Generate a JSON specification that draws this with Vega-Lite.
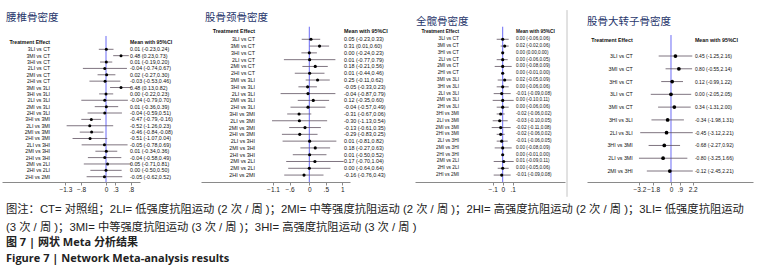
{
  "$schema": "https://vega.github.io/schema/vega-lite/v6.json",
  "width": 776,
  "height": 182,
  "padding": 0,
  "autosize": {"type": "pad"},
  "config": {
    "view": {"stroke": null},
    "font": "Liberation Sans",
    "axisX": {
      "grid": false,
      "title": null,
      "orient": "bottom",
      "domainColor": "#8a8a8a",
      "tickColor": "#8a8a8a",
      "tickSize": 3,
      "labelFontSize": 6.5,
      "labelColor": "#222222",
      "labelPadding": 1,
      "labelFlush": false,
      "labelOverlap": false,
      "labelExpr": "replace(format(datum.value, '~g'), '0.', '.')"
    }
  },
  "title": {
    "text": [
      "图注：CT= 对照组；2LI= 低强度抗阻运动 (2 次 / 周 )；2MI= 中等强度抗阻运动 (2 次 / 周 )；2HI= 高强度抗阻运动 (2 次 / 周 )；3LI= 低强度抗阻运动",
      "(3 次 / 周 )；3MI= 中等强度抗阻运动 (3 次 / 周 )；3HI= 高强度抗阻运动 (3 次 / 周 )"
    ],
    "subtitle": ["图 7 | 网状 Meta 分析结果", "Figure 7 | Network Meta-analysis results"],
    "orient": "bottom",
    "anchor": "start",
    "frame": "group",
    "dx": 6,
    "offset": 7,
    "font": "Liberation Sans, Noto Sans CJK SC",
    "fontSize": 11.3,
    "fontWeight": "normal",
    "color": "#222222",
    "lineHeight": 17.5,
    "subtitleFont": "Open Sans, Noto Sans CJK SC",
    "subtitleFontSize": 11,
    "subtitleFontWeight": "bold",
    "subtitleColor": "#222222",
    "subtitleLineHeight": 16.7,
    "subtitlePadding": 3.5
  },
  "datasets": {
    "lumbar": [
      {"row": 1, "label": "3LI vs CT", "mean": 0.01, "lo": -0.23, "hi": 0.24, "ci": "0.01 (-0.23,0.24)"},
      {"row": 2, "label": "3MI vs CT", "mean": 0.48, "lo": 0.23, "hi": 0.73, "ci": "0.48 (0.23,0.73)"},
      {"row": 3, "label": "3HI vs CT", "mean": 0.01, "lo": -0.19, "hi": 0.20, "ci": "0.01 (-0.19,0.20)"},
      {"row": 4, "label": "2LI vs CT", "mean": -0.04, "lo": -0.74, "hi": 0.67, "ci": "-0.04 (-0.74,0.67)"},
      {"row": 5, "label": "2MI vs CT", "mean": 0.02, "lo": -0.27, "hi": 0.30, "ci": "0.02 (-0.27,0.30)"},
      {"row": 6, "label": "2HI vs CT", "mean": -0.03, "lo": -0.53, "hi": 0.46, "ci": "-0.03 (-0.53,0.46)"},
      {"row": 7, "label": "3MI vs 3LI", "mean": 0.48, "lo": 0.13, "hi": 0.82, "ci": "0.48 (0.13,0.82)"},
      {"row": 8, "label": "3HI vs 3LI", "mean": 0.00, "lo": -0.22, "hi": 0.23, "ci": "0.00 (-0.22,0.23)"},
      {"row": 9, "label": "2LI vs 3LI", "mean": -0.04, "lo": -0.79, "hi": 0.70, "ci": "-0.04 (-0.79,0.70)"},
      {"row": 10, "label": "2MI vs 3LI", "mean": 0.01, "lo": -0.36, "hi": 0.39, "ci": "0.01 (-0.36,0.39)"},
      {"row": 11, "label": "2HI vs 3LI", "mean": -0.04, "lo": -0.59, "hi": 0.51, "ci": "-0.04 (-0.59,0.51)"},
      {"row": 12, "label": "3HI vs 3MI", "mean": -0.47, "lo": -0.79, "hi": -0.16, "ci": "-0.47 (-0.79,-0.16)"},
      {"row": 13, "label": "2LI vs 3MI", "mean": -0.52, "lo": -1.26, "hi": 0.23, "ci": "-0.52 (-1.26,0.23)"},
      {"row": 14, "label": "2MI vs 3MI", "mean": -0.46, "lo": -0.84, "hi": -0.08, "ci": "-0.46 (-0.84,-0.08)"},
      {"row": 15, "label": "2HI vs 3MI", "mean": -0.51, "lo": -1.07, "hi": 0.04, "ci": "-0.51 (-1.07,0.04)"},
      {"row": 16, "label": "2LI vs 3HI", "mean": -0.05, "lo": -0.78, "hi": 0.69, "ci": "-0.05 (-0.78,0.69)"},
      {"row": 17, "label": "2MI vs 3HI", "mean": 0.01, "lo": -0.34, "hi": 0.36, "ci": "0.01 (-0.34,0.36)"},
      {"row": 18, "label": "2HI vs 3HI", "mean": -0.04, "lo": -0.58, "hi": 0.49, "ci": "-0.04 (-0.58,0.49)"},
      {"row": 19, "label": "2MI vs 2LI", "mean": 0.05, "lo": -0.71, "hi": 0.81, "ci": "0.05 (-0.71,0.81)"},
      {"row": 20, "label": "2HI vs 2LI", "mean": 0.00, "lo": -0.50, "hi": 0.50, "ci": "0.00 (-0.50,0.50)"},
      {"row": 21, "label": "2HI vs 2MI", "mean": -0.05, "lo": -0.62, "hi": 0.52, "ci": "-0.05 (-0.62,0.52)"}
    ],
    "neck": [
      {"row": 1, "label": "3LI vs CT", "mean": 0.05, "lo": -0.23, "hi": 0.33, "ci": "0.05 (-0.23,0.33)"},
      {"row": 2, "label": "3MI vs CT", "mean": 0.31, "lo": 0.01, "hi": 0.60, "ci": "0.31 (0.01,0.60)"},
      {"row": 3, "label": "3HI vs CT", "mean": 0.00, "lo": -0.24, "hi": 0.23, "ci": "0.00 (-0.24,0.23)"},
      {"row": 4, "label": "2LI vs CT", "mean": 0.01, "lo": -0.77, "hi": 0.79, "ci": "0.01 (-0.77,0.79)"},
      {"row": 5, "label": "2MI vs CT", "mean": 0.18, "lo": -0.21, "hi": 0.56, "ci": "0.18 (-0.21,0.56)"},
      {"row": 6, "label": "2HI vs CT", "mean": 0.01, "lo": -0.44, "hi": 0.46, "ci": "0.01 (-0.44,0.46)"},
      {"row": 7, "label": "3MI vs 3LI", "mean": 0.25, "lo": -0.11, "hi": 0.62, "ci": "0.25 (-0.11,0.62)"},
      {"row": 8, "label": "3HI vs 3LI", "mean": -0.05, "lo": -0.33, "hi": 0.23, "ci": "-0.05 (-0.33,0.23)"},
      {"row": 9, "label": "2LI vs 3LI", "mean": -0.04, "lo": -0.87, "hi": 0.79, "ci": "-0.04 (-0.87,0.79)"},
      {"row": 10, "label": "2MI vs 3LI", "mean": 0.12, "lo": -0.35, "hi": 0.60, "ci": "0.12 (-0.35,0.60)"},
      {"row": 11, "label": "2HI vs 3LI", "mean": -0.04, "lo": -0.57, "hi": 0.49, "ci": "-0.04 (-0.57,0.49)"},
      {"row": 12, "label": "3HI vs 3MI", "mean": -0.31, "lo": -0.67, "hi": 0.06, "ci": "-0.31 (-0.67,0.06)"},
      {"row": 13, "label": "2LI vs 3MI", "mean": -0.30, "lo": -1.13, "hi": 0.54, "ci": "-0.30 (-1.13,0.54)"},
      {"row": 14, "label": "2MI vs 3MI", "mean": -0.13, "lo": -0.61, "hi": 0.35, "ci": "-0.13 (-0.61,0.35)"},
      {"row": 15, "label": "2HI vs 3MI", "mean": -0.29, "lo": -0.83, "hi": 0.25, "ci": "-0.29 (-0.83,0.25)"},
      {"row": 16, "label": "2LI vs 3HI", "mean": 0.01, "lo": -0.81, "hi": 0.82, "ci": "0.01 (-0.81,0.82)"},
      {"row": 17, "label": "2MI vs 3HI", "mean": 0.18, "lo": -0.27, "hi": 0.63, "ci": "0.18 (-0.27,0.63)"},
      {"row": 18, "label": "2HI vs 3HI", "mean": 0.01, "lo": -0.50, "hi": 0.52, "ci": "0.01 (-0.50,0.52)"},
      {"row": 19, "label": "2MI vs 2LI", "mean": 0.17, "lo": -0.70, "hi": 1.04, "ci": "0.17 (-0.70,1.04)"},
      {"row": 20, "label": "2MI vs 2LI", "mean": 0.00, "lo": -0.64, "hi": 0.64, "ci": "0.00 (-0.64,0.64)"},
      {"row": 21, "label": "2HI vs 2MI", "mean": -0.16, "lo": -0.76, "hi": 0.43, "ci": "-0.16 (-0.76,0.43)"}
    ],
    "hip": [
      {"row": 1, "label": "3LI vs CT", "mean": 0.00, "lo": -0.06, "hi": 0.06, "ci": "0.00 (-0.06,0.06)"},
      {"row": 2, "label": "3MI vs CT", "mean": 0.02, "lo": -0.02, "hi": 0.06, "ci": "0.02 (-0.02,0.06)"},
      {"row": 3, "label": "3HI vs CT", "mean": 0.00, "lo": 0.00, "hi": 0.00, "ci": "0.00 (0.00,0.00)"},
      {"row": 4, "label": "2LI vs CT", "mean": 0.00, "lo": -0.06, "hi": 0.05, "ci": "0.00 (-0.06,0.05)"},
      {"row": 5, "label": "2MI vs CT", "mean": 0.00, "lo": -0.08, "hi": 0.09, "ci": "0.00 (-0.08,0.09)"},
      {"row": 6, "label": "2HI vs CT", "mean": 0.00, "lo": -0.01, "hi": 0.00, "ci": "0.00 (-0.01,0.00)"},
      {"row": 7, "label": "3MI vs 3LI", "mean": 0.02, "lo": -0.05, "hi": 0.09, "ci": "0.02 (-0.05,0.09)"},
      {"row": 8, "label": "3HI vs 3LI", "mean": 0.00, "lo": -0.06, "hi": 0.06, "ci": "0.00 (-0.06,0.06)"},
      {"row": 9, "label": "2LI vs 3LI", "mean": -0.01, "lo": -0.09, "hi": 0.08, "ci": "-0.01 (-0.09,0.08)"},
      {"row": 10, "label": "2MI vs 3LI", "mean": 0.00, "lo": -0.10, "hi": 0.11, "ci": "0.00 (-0.10,0.11)"},
      {"row": 11, "label": "2HI vs 3LI", "mean": 0.00, "lo": -0.06, "hi": 0.06, "ci": "0.00 (-0.06,0.06)"},
      {"row": 12, "label": "3HI vs 3MI", "mean": -0.02, "lo": -0.06, "hi": 0.02, "ci": "-0.02 (-0.06,0.02)"},
      {"row": 13, "label": "2LI vs 3MI", "mean": -0.03, "lo": -0.10, "hi": 0.05, "ci": "-0.03 (-0.10,0.05)"},
      {"row": 14, "label": "2MI vs 3MI", "mean": -0.02, "lo": -0.11, "hi": 0.08, "ci": "-0.02 (-0.11,0.08)"},
      {"row": 15, "label": "2HI vs 3MI", "mean": -0.02, "lo": -0.06, "hi": 0.02, "ci": "-0.02 (-0.06,0.02)"},
      {"row": 16, "label": "2LI vs 3HI", "mean": -0.01, "lo": -0.06, "hi": 0.05, "ci": "-0.01 (-0.06,0.05)"},
      {"row": 17, "label": "2MI vs 3HI", "mean": 0.00, "lo": -0.08, "hi": 0.09, "ci": "0.00 (-0.08,0.09)"},
      {"row": 18, "label": "2HI vs 3HI", "mean": 0.00, "lo": -0.01, "hi": 0.00, "ci": "0.00 (-0.01,0.00)"},
      {"row": 19, "label": "2MI vs 2LI", "mean": 0.01, "lo": -0.09, "hi": 0.11, "ci": "0.01 (-0.09,0.11)"},
      {"row": 20, "label": "2HI vs 2LI", "mean": 0.00, "lo": -0.05, "hi": 0.06, "ci": "0.00 (-0.05,0.06)"},
      {"row": 21, "label": "2HI vs 2MI", "mean": -0.01, "lo": -0.09, "hi": 0.08, "ci": "-0.01 (-0.09,0.08)"}
    ],
    "troch": [
      {"row": 1, "label": "3LI vs CT", "mean": 0.45, "lo": -1.25, "hi": 2.16, "ci": "0.45 (-1.25,2.16)"},
      {"row": 2, "label": "3MI vs CT", "mean": 0.80, "lo": -0.55, "hi": 2.14, "ci": "0.80 (-0.55,2.14)"},
      {"row": 3, "label": "3HI vs CT", "mean": 0.12, "lo": -0.99, "hi": 1.22, "ci": "0.12 (-0.99,1.22)"},
      {"row": 4, "label": "3LI vs CT", "mean": 0.00, "lo": -2.05, "hi": 2.05, "ci": "0.00 (-2.05,2.05)"},
      {"row": 5, "label": "3MI vs CT", "mean": 0.34, "lo": -1.31, "hi": 2.00, "ci": "0.34 (-1.31,2.00)"},
      {"row": 6, "label": "3HI vs 3LI", "mean": -0.34, "lo": -1.98, "hi": 1.31, "ci": "-0.34 (-1.98,1.31)"},
      {"row": 7, "label": "2LI vs 3LI", "mean": -0.45, "lo": -3.12, "hi": 2.21, "ci": "-0.45 (-3.12,2.21)"},
      {"row": 8, "label": "3HI vs 3MI", "mean": -0.68, "lo": -2.27, "hi": 0.92, "ci": "-0.68 (-2.27,0.92)"},
      {"row": 9, "label": "2LI vs 3MI", "mean": -0.80, "lo": -3.25, "hi": 1.66, "ci": "-0.80 (-3.25,1.66)"},
      {"row": 10, "label": "2MI vs 3HI", "mean": -0.12, "lo": -2.45, "hi": 2.21, "ci": "-0.12 (-2.45,2.21)"}
    ],
    "m1": [{"title": "腰椎骨密度", "left": "Treatment Effect", "right": "Mean with 95%CI"}],
    "m2": [{"title": "股骨颈骨密度", "left": "Treatment Effect", "right": "Mean with 95%CI"}],
    "m3": [{"title": "全髋骨密度", "left": "Treatment Effect", "right": "Mean with 95%CI"}],
    "m4": [{"title": "股骨大转子骨密度", "left": "Treatment Effect", "right": "Mean with 95%CI"}]
  },
  "layer": [
    {
      "data": {"name": "lumbar"},
      "layer": [
        {
          "data": {"name": "m1"},
          "mark": {"type": "rule", "color": "#6b6bf5", "strokeWidth": 1},
          "encoding": {
            "x": {"datum": 0, "type": "quantitative", "scale": {"domain": [-3.328, 1.088], "range": [2, 140], "nice": false, "zero": false}, "axis": {"orient": "bottom", "values": [-1.3, -0.8, 0, 0.3, 0.8]}},
            "y": {"datum": -1.09, "type": "quantitative", "scale": {"domain": [-2.5, 21.83], "range": [27, 182], "nice": false, "zero": false}, "axis": null},
            "y2": {"datum": 21.83}
          }
        },
        {
          "mark": {"type": "rule", "color": "#5e5060", "strokeWidth": 0.8},
          "encoding": {"x": {"field": "lo", "type": "quantitative"}, "x2": {"field": "hi"}, "y": {"field": "row", "type": "quantitative"}}
        },
        {
          "mark": {"type": "circle", "color": "#000000", "opacity": 1, "size": 9},
          "encoding": {"x": {"field": "mean", "type": "quantitative"}, "y": {"field": "row", "type": "quantitative"}}
        },
        {
          "mark": {"type": "text", "align": "right", "baseline": "middle", "fontSize": 5.2, "color": "#111111"},
          "encoding": {"x": {"datum": -1.79, "type": "quantitative"}, "y": {"field": "row", "type": "quantitative"}, "text": {"field": "label"}}
        },
        {
          "mark": {"type": "text", "align": "left", "baseline": "middle", "fontSize": 5.3, "color": "#111111"},
          "encoding": {"x": {"datum": 0.768, "type": "quantitative"}, "y": {"field": "row", "type": "quantitative"}, "text": {"field": "ci"}}
        },
        {
          "data": {"name": "m1"},
          "mark": {"type": "text", "align": "right", "baseline": "middle", "fontSize": 5.2, "fontWeight": "bold", "color": "#111111"},
          "encoding": {"x": {"datum": -1.79, "type": "quantitative"}, "y": {"datum": -0.19, "type": "quantitative"}, "text": {"field": "left"}}
        },
        {
          "data": {"name": "m1"},
          "mark": {"type": "text", "align": "left", "baseline": "middle", "fontSize": 5.2, "fontWeight": "bold", "color": "#111111"},
          "encoding": {"x": {"datum": 0.768, "type": "quantitative"}, "y": {"datum": -0.19, "type": "quantitative"}, "text": {"field": "right"}}
        },
        {
          "data": {"name": "m1"},
          "mark": {"type": "text", "align": "left", "baseline": "middle", "fontSize": 10.5, "font": "Noto Sans CJK SC", "color": "#27366b"},
          "encoding": {"x": {"datum": -3.2, "type": "quantitative"}, "y": {"datum": -3.91, "type": "quantitative"}, "text": {"field": "title"}}
        }
      ]
    },
    {
      "data": {"name": "neck"},
      "layer": [
        {
          "data": {"name": "m2"},
          "mark": {"type": "rule", "color": "#6b6bf5", "strokeWidth": 1},
          "encoding": {
            "x": {"datum": 0, "type": "quantitative", "scale": {"domain": [-3.282, 1.233], "range": [201, 350], "nice": false, "zero": false}, "axis": {"orient": "bottom", "values": [-1.1, -0.6, 0, 0.5, 1]}},
            "y": {"datum": -0.85, "type": "quantitative", "scale": {"domain": [-0.81, 22.02], "range": [27, 182], "nice": false, "zero": false}, "axis": null},
            "y2": {"datum": 22.02}
          }
        },
        {
          "mark": {"type": "rule", "color": "#5e5060", "strokeWidth": 0.8},
          "encoding": {"x": {"field": "lo", "type": "quantitative"}, "x2": {"field": "hi"}, "y": {"field": "row", "type": "quantitative"}}
        },
        {
          "mark": {"type": "circle", "color": "#000000", "opacity": 1, "size": 10},
          "encoding": {"x": {"field": "mean", "type": "quantitative"}, "y": {"field": "row", "type": "quantitative"}}
        },
        {
          "mark": {"type": "text", "align": "right", "baseline": "middle", "fontSize": 5.4, "color": "#111111"},
          "encoding": {"x": {"datum": -1.645, "type": "quantitative"}, "y": {"field": "row", "type": "quantitative"}, "text": {"field": "label"}}
        },
        {
          "mark": {"type": "text", "align": "left", "baseline": "middle", "fontSize": 5.4, "color": "#111111"},
          "encoding": {"x": {"datum": 1.048, "type": "quantitative"}, "y": {"field": "row", "type": "quantitative"}, "text": {"field": "ci"}}
        },
        {
          "data": {"name": "m2"},
          "mark": {"type": "text", "align": "right", "baseline": "middle", "fontSize": 5.4, "fontWeight": "bold", "color": "#111111"},
          "encoding": {"x": {"datum": -1.645, "type": "quantitative"}, "y": {"datum": -0.22, "type": "quantitative"}, "text": {"field": "left"}}
        },
        {
          "data": {"name": "m2"},
          "mark": {"type": "text", "align": "left", "baseline": "middle", "fontSize": 5.4, "fontWeight": "bold", "color": "#111111"},
          "encoding": {"x": {"datum": 1.048, "type": "quantitative"}, "y": {"datum": -0.22, "type": "quantitative"}, "text": {"field": "right"}}
        },
        {
          "data": {"name": "m2"},
          "mark": {"type": "text", "align": "left", "baseline": "middle", "fontSize": 10.5, "font": "Noto Sans CJK SC", "color": "#27366b"},
          "encoding": {"x": {"datum": -3.16, "type": "quantitative"}, "y": {"datum": -2.135, "type": "quantitative"}, "text": {"field": "title"}}
        }
      ]
    },
    {
      "data": {"name": "hip"},
      "layer": [
        {
          "data": {"name": "m3"},
          "mark": {"type": "rule", "color": "#6b6bf5", "strokeWidth": 1},
          "encoding": {
            "x": {"datum": 0, "type": "quantitative", "scale": {"domain": [-0.877, 0.623], "range": [415, 565], "nice": false, "zero": false}, "axis": {"orient": "bottom", "values": [-0.1, 0, 0.1]}},
            "y": {"datum": -0.85, "type": "quantitative", "scale": {"domain": [-0.81, 22.02], "range": [27, 182], "nice": false, "zero": false}, "axis": null},
            "y2": {"datum": 22.02}
          }
        },
        {
          "data": {"name": "m3"},
          "mark": {"type": "rule", "color": "#c4c4c4", "strokeWidth": 1},
          "encoding": {"x": {"datum": 0.643, "type": "quantitative"}, "y": {"datum": -3.3, "type": "quantitative"}, "y2": {"datum": 24.2}}
        },
        {
          "mark": {"type": "rule", "color": "#5e5060", "strokeWidth": 0.8},
          "encoding": {"x": {"field": "lo", "type": "quantitative"}, "x2": {"field": "hi"}, "y": {"field": "row", "type": "quantitative"}}
        },
        {
          "mark": {"type": "circle", "color": "#000000", "opacity": 1, "size": 10},
          "encoding": {"x": {"field": "mean", "type": "quantitative"}, "y": {"field": "row", "type": "quantitative"}}
        },
        {
          "mark": {"type": "text", "align": "right", "baseline": "middle", "fontSize": 4.8, "color": "#111111"},
          "encoding": {"x": {"datum": -0.437, "type": "quantitative"}, "y": {"field": "row", "type": "quantitative"}, "text": {"field": "label"}}
        },
        {
          "mark": {"type": "text", "align": "left", "baseline": "middle", "fontSize": 4.6, "color": "#111111"},
          "encoding": {"x": {"datum": 0.133, "type": "quantitative"}, "y": {"field": "row", "type": "quantitative"}, "text": {"field": "ci"}}
        },
        {
          "data": {"name": "m3"},
          "mark": {"type": "text", "align": "right", "baseline": "middle", "fontSize": 4.8, "fontWeight": "bold", "color": "#111111"},
          "encoding": {"x": {"datum": -0.437, "type": "quantitative"}, "y": {"datum": -0.03, "type": "quantitative"}, "text": {"field": "left"}}
        },
        {
          "data": {"name": "m3"},
          "mark": {"type": "text", "align": "left", "baseline": "middle", "fontSize": 4.8, "fontWeight": "bold", "color": "#111111"},
          "encoding": {"x": {"datum": 0.133, "type": "quantitative"}, "y": {"datum": -0.03, "type": "quantitative"}, "text": {"field": "right"}}
        },
        {
          "data": {"name": "m3"},
          "mark": {"type": "text", "align": "left", "baseline": "middle", "fontSize": 10.5, "font": "Noto Sans CJK SC", "color": "#27366b"},
          "encoding": {"x": {"datum": -0.867, "type": "quantitative"}, "y": {"datum": -1.59, "type": "quantitative"}, "text": {"field": "title"}}
        }
      ]
    },
    {
      "data": {"name": "troch"},
      "layer": [
        {
          "data": {"name": "m4"},
          "mark": {"type": "rule", "color": "#6b6bf5", "strokeWidth": 1},
          "encoding": {
            "x": {"datum": 0, "type": "quantitative", "scale": {"domain": [-8.52, 8.32], "range": [587, 753], "nice": false, "zero": false}, "axis": {"orient": "bottom", "values": [-3.2, -1.8, 0, 0.9, 2.2]}},
            "y": {"datum": -0.64, "type": "quantitative", "scale": {"domain": [-1.27, 10.86], "range": [27, 182], "nice": false, "zero": false}, "axis": null},
            "y2": {"datum": 10.86}
          }
        },
        {
          "mark": {"type": "rule", "color": "#5e5060", "strokeWidth": 0.8},
          "encoding": {"x": {"field": "lo", "type": "quantitative"}, "x2": {"field": "hi"}, "y": {"field": "row", "type": "quantitative"}}
        },
        {
          "mark": {"type": "circle", "color": "#000000", "opacity": 1, "size": 14},
          "encoding": {"x": {"field": "mean", "type": "quantitative"}, "y": {"field": "row", "type": "quantitative"}}
        },
        {
          "mark": {"type": "text", "align": "right", "baseline": "middle", "fontSize": 5.3, "color": "#111111"},
          "encoding": {"x": {"datum": -3.88, "type": "quantitative"}, "y": {"field": "row", "type": "quantitative"}, "text": {"field": "label"}}
        },
        {
          "mark": {"type": "text", "align": "left", "baseline": "middle", "fontSize": 5.0, "color": "#111111"},
          "encoding": {"x": {"datum": 2.43, "type": "quantitative"}, "y": {"field": "row", "type": "quantitative"}, "text": {"field": "ci"}}
        },
        {
          "data": {"name": "m4"},
          "mark": {"type": "text", "align": "right", "baseline": "middle", "fontSize": 5.3, "fontWeight": "bold", "color": "#111111"},
          "encoding": {"x": {"datum": -3.88, "type": "quantitative"}, "y": {"datum": -0.25, "type": "quantitative"}, "text": {"field": "left"}}
        },
        {
          "data": {"name": "m4"},
          "mark": {"type": "text", "align": "left", "baseline": "middle", "fontSize": 5.3, "fontWeight": "bold", "color": "#111111"},
          "encoding": {"x": {"datum": 2.43, "type": "quantitative"}, "y": {"datum": -0.25, "type": "quantitative"}, "text": {"field": "right"}}
        },
        {
          "data": {"name": "m4"},
          "mark": {"type": "text", "align": "left", "baseline": "middle", "fontSize": 10.5, "font": "Noto Sans CJK SC", "color": "#27366b"},
          "encoding": {"x": {"datum": -8.52, "type": "quantitative"}, "y": {"datum": -1.685, "type": "quantitative"}, "text": {"field": "title"}}
        }
      ]
    }
  ],
  "resolve": {"scale": {"x": "independent", "y": "independent"}, "axis": {"x": "independent", "y": "independent"}}
}
